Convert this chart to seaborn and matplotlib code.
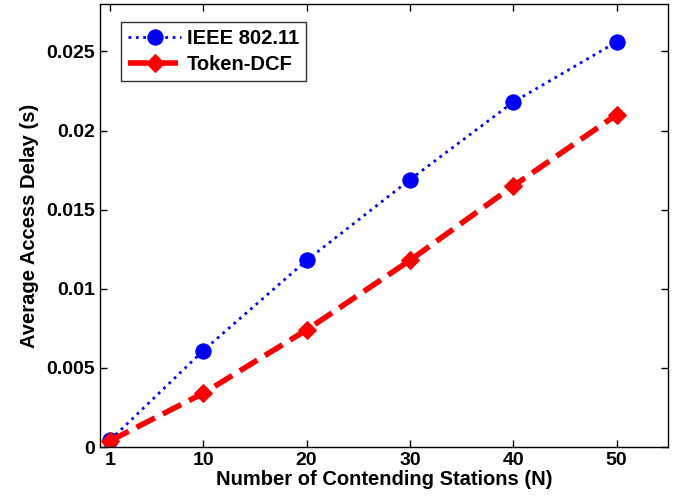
# Average access delay: IEEE 802.11 vs Token-DCF
import pandas as pd
import matplotlib
matplotlib.use('Agg')
import matplotlib.pyplot as plt
import seaborn as sns

n_stations = [1, 10, 20, 30, 40, 50]
ieee_delay = [0.00045, 0.0061, 0.0118, 0.0169, 0.0218, 0.0256]
token_delay = [0.0004, 0.0034, 0.0074, 0.0118, 0.0165, 0.0210]
x_ticks = [1, 10, 20, 30, 40, 50]
y_ticks = [0, 0.005, 0.01, 0.015, 0.02, 0.025]
y_tick_labels = ['0', '0.005', '0.01', '0.015', '0.02', '0.025']

df = pd.DataFrame({'N': n_stations, 'IEEE 802.11': ieee_delay, 'Token-DCF': token_delay})

sns.set_style('ticks')
plt.rcParams['font.family'] = ['Liberation Sans', 'DejaVu Sans']
plt.rcParams['font.weight'] = 'bold'
plt.rcParams['text.color'] = 'black'
plt.rcParams['axes.labelcolor'] = 'black'
plt.rcParams['xtick.color'] = 'black'
plt.rcParams['ytick.color'] = 'black'

fig = plt.figure(figsize=(6.78, 5.04), dpi=100)
ax = fig.add_axes([0.1475, 0.113, 0.838, 0.879])

sns.lineplot(data=df, x='N', y='IEEE 802.11', ax=ax, color='#0000ff', linestyle=':',
             linewidth=2, marker='o', markersize=11, markeredgecolor='#0000ff',
             label='IEEE 802.11')
sns.lineplot(data=df, x='N', y='Token-DCF', ax=ax, color='#ff0000', linestyle='--',
             linewidth=4, marker='D', markersize=9, markeredgecolor='#ff0000',
             label='Token-DCF')

ax.set_xlim(0, 55)
ax.set_ylim(0, 0.028)
ax.set_xticks(x_ticks)
ax.set_yticks(y_ticks)
ax.set_yticklabels(y_tick_labels)
ax.tick_params(direction='in', top=True, right=True, labelsize=14, length=5, width=1,
               colors='black')
for s in ax.spines.values():
    s.set_visible(True)
    s.set_linewidth(1)
    s.set_color('black')
ax.set_xlabel('Number of Contending Stations (N)', fontsize=14.5, fontweight='bold', labelpad=1)
ax.set_ylabel('Average Access Delay (s)', fontsize=14.5, fontweight='bold', labelpad=5)

leg = ax.legend(loc='upper left', fontsize=14.5, frameon=True, fancybox=False,
                edgecolor='black', handlelength=2.6, borderpad=0.35, labelspacing=0.35,
                handletextpad=0.3, bbox_to_anchor=(0.02, 0.982))
leg.get_frame().set_linewidth(1)

fig.savefig('out.png', dpi=100)
